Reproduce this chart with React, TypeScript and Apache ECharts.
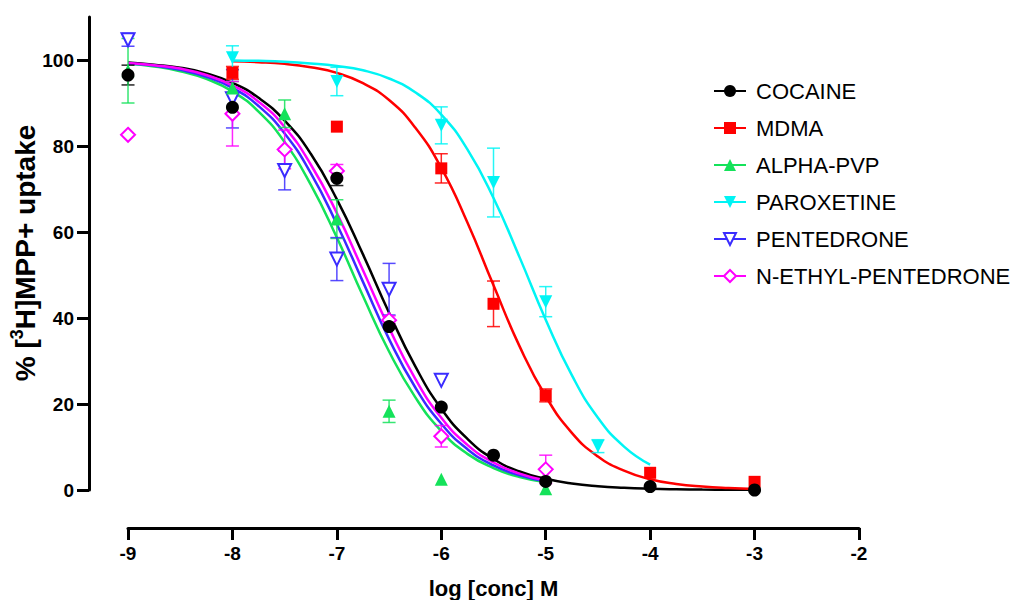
import React, { useEffect, useRef } from 'react';
import * as echarts from 'echarts';

// ---------- data ----------
const COMPOUNDS = ['COCAINE', 'MDMA', 'ALPHA-PVP', 'PAROXETINE', 'PENTEDRONE', 'N-ETHYL-PENTEDRONE'];

// measured points (log conc, % uptake, SEM)
const cocaineX = [-9, -8, -7, -6.5, -6, -5.5, -5, -4, -3];
const cocaineY = [96.5, 89.0, 72.5, 38.0, 19.3, 8.1, 2.0, 0.8, 0.0];
const cocaineErr = [2.3, 0, 1.7, 0, 0, 0, 0, 0, 0];

const mdmaX = [-8, -7, -6, -5.5, -5, -4, -3];
const mdmaY = [97.0, 84.5, 74.8, 43.3, 22.0, 4.0, 1.9];
const mdmaErr = [1.5, 0, 3.4, 5.3, 1.5, 0, 0];

const pvpX = [-9, -8, -7.5, -7, -6.5, -6, -5];
const pvpY = [97.5, 93.5, 87.5, 63.0, 18.3, 2.5, 0.3];
const pvpErr = [7.5, 1.5, 3.2, 4.5, 2.6, 0, 0];

const paroxX = [-8, -7, -6, -5.5, -5, -4.5];
const paroxY = [100.5, 95.0, 84.8, 71.5, 43.8, 10.2];
const paroxErr = [2.8, 3.3, 4.3, 8.0, 3.5, 1.5];

const pentX = [-9, -8, -7.5, -7, -6.5, -6];
const pentY = [104.7, 91.0, 74.3, 53.7, 46.7, 25.5];
const pentErr = [1.5, 6.8, 4.5, 5.0, 6.0, 0];

const nepX = [-9, -8, -7.5, -7, -6.5, -6, -5];
const nepY = [82.6, 87.5, 79.2, 74.2, 39.5, 12.5, 4.8];
const nepErr = [0, 7.5, 4.5, 1.5, 1.0, 2.5, 3.3];

// fitted curves (every 0.25 log unit)
const cocaineCurveX = [-9, -8.75, -8.5, -8.25, -8, -7.75, -7.5, -7.25, -7, -6.75, -6.5, -6.25, -6, -5.75, -5.5, -5.25, -5, -4.75, -4.5, -4.25, -4, -3.75, -3.5, -3.25, -3];
const cocaineCurveY = [99.4, 98.9, 98.2, 96.9, 94.7, 91.2, 85.9, 78.2, 67.6, 54.8, 41.2, 28.8, 18.9, 11.9, 7.2, 4.3, 2.6, 1.5, 0.86, 0.5, 0.29, 0.17, 0.1, 0.06, 0.03];

const mdmaCurveX = [-8, -7.75, -7.5, -7.25, -7, -6.75, -6.5, -6.25, -6, -5.75, -5.5, -5.25, -5, -4.75, -4.5, -4.25, -4, -3.75, -3.5, -3.25, -3];
const mdmaCurveY = [99.7, 99.5, 99.1, 98.3, 97.0, 94.6, 90.7, 84.3, 74.9, 62.2, 47.6, 33.4, 21.8, 13.3, 7.8, 4.5, 2.5, 1.4, 0.79, 0.44, 0.24];

const pvpCurveX = [-9, -8.75, -8.5, -8.25, -8, -7.75, -7.5, -7.25, -7, -6.75, -6.5, -6.25, -6, -5.75, -5.5, -5.25, -5];
const pvpCurveY = [99.1, 98.5, 97.4, 95.6, 92.7, 88.0, 80.9, 71.0, 58.7, 45.1, 32.2, 21.6, 13.7, 8.4, 5.1, 3.0, 1.8];

const paroxCurveX = [-8, -7.75, -7.5, -7.25, -7, -6.75, -6.5, -6.25, -6, -5.75, -5.5, -5.25, -5, -4.75, -4.5, -4.25, -4];
const paroxCurveY = [99.9, 99.8, 99.6, 99.2, 98.6, 97.6, 95.7, 92.5, 87.3, 79.2, 67.9, 54.1, 39.6, 26.7, 16.8, 10.1, 5.9];

const pentCurveX = [-9, -8.75, -8.5, -8.25, -8, -7.75, -7.5, -7.25, -7, -6.75, -6.5, -6.25, -6, -5.75, -5.5, -5.25, -5];
const pentCurveY = [99.2, 98.7, 97.7, 96.1, 93.5, 89.3, 82.9, 73.7, 61.8, 48.4, 35.1, 23.9, 15.4, 9.5, 5.7, 3.4, 2.0];

const nepCurveX = [-9, -8.75, -8.5, -8.25, -8, -7.75, -7.5, -7.25, -7, -6.75, -6.5, -6.25, -6, -5.75, -5.5, -5.25, -5];
const nepCurveY = [99.3, 98.8, 98.0, 96.5, 94.1, 90.3, 84.4, 75.7, 64.4, 51.1, 37.7, 25.9, 16.8, 10.5, 6.4, 3.8, 2.2];

const X_TICK_MIN = -9;
const X_TICK_MAX = -2;
const Y_MAX = 110;

// ---------- styles ----------
const COLORS = ['#000000', '#ff0000', '#14e25a', '#00f4f4', '#3a2cff', '#ff00ff'];
const SYMBOLS = ['circle', 'rect', 'triangle', 'triangle', 'emptyTriangle', 'emptyDiamond'];
const ROTATES = [0, 0, 0, 180, 180, 0];
const SIZES = [13, 12, 13, 13, 13, 14];
const FONT = '"Liberation Sans", Arial, Helvetica, sans-serif';

const pts = [
  [cocaineX, cocaineY, cocaineErr],
  [mdmaX, mdmaY, mdmaErr],
  [pvpX, pvpY, pvpErr],
  [paroxX, paroxY, paroxErr],
  [pentX, pentY, pentErr],
  [nepX, nepY, nepErr],
];
const curves = [
  [cocaineCurveX, cocaineCurveY],
  [mdmaCurveX, mdmaCurveY],
  [pvpCurveX, pvpCurveY],
  [paroxCurveX, paroxCurveY],
  [pentCurveX, pentCurveY],
  [nepCurveX, nepCurveY],
];

export default function App() {
  const ref = useRef<HTMLDivElement>(null);
  useEffect(() => {
    if (!ref.current) return;
    const chart = echarts.init(ref.current, null, { renderer: 'svg' });

    const series: any[] = [];
    COMPOUNDS.forEach((name, i) => {
      const [cx, cy] = curves[i];
      series.push({
        name,
        type: 'line',
        xAxisIndex: 0,
        yAxisIndex: 0,
        data: cx.map((x, k) => [x, cy[k]]),
        smooth: 0.5,
        showSymbol: false,
        symbol: SYMBOLS[i],
        symbolRotate: ROTATES[i],
        symbolSize: SIZES[i],
        lineStyle: { color: COLORS[i], width: 2.5 },
        itemStyle: { color: COLORS[i], borderWidth: 2 },
        z: 2,
        silent: true,
      });
    });
    COMPOUNDS.forEach((name, i) => {
      const [px, py, pe] = pts[i];
      const color = COLORS[i];
      series.push({
        name: name + ' SEM',
        type: 'custom',
        xAxisIndex: 0,
        yAxisIndex: 0,
        data: px.map((x, k) => [x, py[k] - pe[k], py[k] + pe[k]]).filter((_, k) => pe[k] > 0),
        encode: { x: 0, y: [1, 2] },
        z: 3,
        silent: true,
        renderItem: (params: any, api: any) => {
          const x = api.value(0);
          const lo = api.coord([x, api.value(1)]);
          const hi = api.coord([x, api.value(2)]);
          const st = { stroke: color, lineWidth: 1.5, opacity: 0.85 };
          const w = 6.5;
          return {
            type: 'group',
            children: [
              { type: 'line', shape: { x1: lo[0], y1: lo[1], x2: hi[0], y2: hi[1] }, style: st },
              { type: 'line', shape: { x1: lo[0] - w, y1: lo[1], x2: lo[0] + w, y2: lo[1] }, style: st },
              { type: 'line', shape: { x1: hi[0] - w, y1: hi[1], x2: hi[0] + w, y2: hi[1] }, style: st },
            ],
          };
        },
      });
    });
    for (let i = COMPOUNDS.length - 1; i >= 0; i--) {
      const [px, py] = pts[i];
      series.push({
        name: COMPOUNDS[i] + ' data',
        type: 'scatter',
        xAxisIndex: 0,
        yAxisIndex: 0,
        data: px.map((x, k) => [x, py[k]]),
        symbol: SYMBOLS[i],
        symbolRotate: ROTATES[i],
        symbolSize: SIZES[i],
        itemStyle: { color: COLORS[i], borderWidth: 2, opacity: 1 },
        z: 4 + (COMPOUNDS.length - i),
        silent: true,
      });
    }

    chart.setOption({
      animation: false,
      backgroundColor: '#ffffff',
      grid: [
        { left: 89, right: 152, top: 17, bottom: 110, outerBoundsMode: 'none', containLabel: false },
        { left: 128, right: 152, top: 17, bottom: 72, outerBoundsMode: 'none', containLabel: false },
      ],
      xAxis: [
        { gridIndex: 0, type: 'value', min: -9.3736, max: X_TICK_MAX, show: false },
        {
          gridIndex: 1,
          type: 'value',
          min: X_TICK_MIN,
          max: X_TICK_MAX,
          interval: 1,
          axisLine: { show: true, onZero: false, lineStyle: { color: '#000', width: 3 } },
          axisTick: { show: true, length: 12, lineStyle: { color: '#000', width: 3 } },
          axisLabel: { color: '#000', fontSize: 19, fontWeight: 'bold', fontFamily: FONT, margin: 16 },
          splitLine: { show: false },
          name: 'log [conc] M',
          nameLocation: 'middle',
          nameGap: 49,
          nameTextStyle: { color: '#000', fontSize: 22, lineHeight: 22, fontWeight: 'bold', fontFamily: FONT },
        },
      ],
      yAxis: [
        {
          gridIndex: 0,
          type: 'value',
          min: 0,
          max: Y_MAX,
          interval: 20,
          axisLine: { show: true, lineStyle: { color: '#000', width: 3 } },
          axisTick: { show: true, length: 12, lineStyle: { color: '#000', width: 3 } },
          axisLabel: { color: '#000', fontSize: 19, fontWeight: 'bold', fontFamily: FONT, margin: 15, showMaxLabel: false },
          splitLine: { show: false },
        },
        { gridIndex: 1, type: 'value', min: 0, max: 1, show: false },
      ],
      legend: {
        orient: 'vertical',
        left: 708,
        top: 75,
        itemWidth: 32,
        itemHeight: 15,
        itemGap: 15,
        data: COMPOUNDS,
        textStyle: { color: '#000', fontSize: 22, fontFamily: FONT, lineHeight: 22, padding: [0, 0, 0, 5] },
        selectedMode: false,
      },
      graphic: [
        {
          type: 'text',
          x: 25,
          y: 253,
          rotation: Math.PI / 2,
          style: {
            text: '% [{sup|3}H]MPP+ uptake',
            fontSize: 28,
            fontWeight: 'bold',
            fontFamily: FONT,
            fill: '#000',
            align: 'center',
            verticalAlign: 'middle',
            lineHeight: 34,
            rich: {
              sup: { fontSize: 18, fontWeight: 'bold', fontFamily: FONT, fill: '#000', verticalAlign: 'top', lineHeight: 18 },
            },
          },
        },
      ],
      series,
    });
    return () => chart.dispose();
  }, []);
  return (
    <div
      ref={ref}
      style={{ position: 'absolute', left: 0, top: 0, width: 1011, height: 600, background: '#fff' }}
    />
  );
}
